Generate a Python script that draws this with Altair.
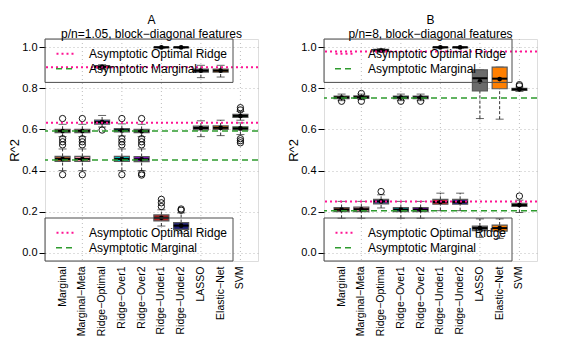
import altair as alt
import pandas as pd

categories = ["Marginal", "Marginal\u2212Meta", "Ridge\u2212Optimal", "Ridge\u2212Over1", "Ridge\u2212Over2",
              "Ridge\u2212Under1", "Ridge\u2212Under2", "LASSO", "Elastic\u2212Net", "SVM"]
box_colors = ["#A0522D", "#E8879B", "#2F4F9F", "#00B5B5", "#8B00D6",
              "#B22222", "#1E1E78", "#6B6B6B", "#FF7F00", "#2E9B2E"]
grid_cats = ["Marginal\u2212Meta", "Ridge\u2212Over1", "Ridge\u2212Under1", "LASSO", "SVM"]
y_ticks = [0.0, 0.2, 0.4, 0.6, 0.8, 1.0]

# ---------------- Panel A : p/n = 1.05 ----------------
A_hi_lw = [0.565, 0.565, 0.892, 0.568, 0.565, 0.995, 0.995, 0.852, 0.855, 0.645]
A_hi_q1 = [0.585, 0.585, 0.899, 0.588, 0.585, 0.997, 0.997, 0.879, 0.879, 0.659]
A_hi_med = [0.593, 0.593, 0.905, 0.596, 0.592, 1.000, 1.000, 0.886, 0.886, 0.666]
A_hi_q3 = [0.601, 0.601, 0.910, 0.604, 0.600, 1.000, 1.000, 0.893, 0.893, 0.673]
A_hi_uw = [0.625, 0.625, 0.915, 0.627, 0.625, 1.000, 1.000, 0.912, 0.912, 0.688]
A_hi_mean = [0.592, 0.592, 0.904, 0.595, 0.591, 0.999, 0.999, 0.886, 0.886, 0.665]
A_hi_out = [[0.653, 0.555, 0.540, 0.525], [0.653, 0.555, 0.540, 0.525], [],
            [0.653, 0.555, 0.540, 0.525], [0.653, 0.555, 0.540, 0.525], [], [], [], [],
            [0.706, 0.695]]

A_lo_lw = [0.400, 0.400, 0.612, 0.400, 0.400, 0.130, 0.095, 0.565, 0.570, 0.575]
A_lo_q1 = [0.444, 0.444, 0.626, 0.444, 0.443, 0.155, 0.114, 0.598, 0.600, 0.598]
A_lo_med = [0.456, 0.456, 0.636, 0.456, 0.455, 0.170, 0.132, 0.607, 0.608, 0.605]
A_lo_q3 = [0.469, 0.469, 0.646, 0.469, 0.468, 0.184, 0.147, 0.616, 0.617, 0.613]
A_lo_uw = [0.505, 0.505, 0.668, 0.505, 0.505, 0.209, 0.194, 0.642, 0.645, 0.632]
A_lo_mean = [0.456, 0.456, 0.636, 0.456, 0.455, 0.170, 0.132, 0.607, 0.608, 0.605]
A_lo_out = [[0.380], [0.380], [0.597], [0.380], [0.385, 0.378], [0.225, 0.243, 0.260],
            [0.207, 0.213], [], [], [0.555, 0.545, 0.535]]

A_pink = [0.903, 0.633]
A_green = [0.592, 0.451]

# ---------------- Panel B : p/n = 8 ----------------
B_hi_lw = [0.740, 0.745, 0.975, 0.740, 0.740, 0.995, 0.995, 0.653, 0.650, 0.785]
B_hi_q1 = [0.750, 0.751, 0.980, 0.750, 0.750, 0.997, 0.997, 0.787, 0.798, 0.790]
B_hi_med = [0.756, 0.757, 0.985, 0.756, 0.756, 1.000, 1.000, 0.849, 0.847, 0.795]
B_hi_q3 = [0.762, 0.763, 0.990, 0.762, 0.762, 1.000, 1.000, 0.890, 0.903, 0.800]
B_hi_uw = [0.772, 0.772, 0.993, 0.772, 0.772, 1.000, 1.000, 0.890, 0.903, 0.806]
B_hi_mean = [0.755, 0.756, 0.984, 0.755, 0.755, 0.999, 0.999, 0.834, 0.845, 0.795]
B_hi_out = [[0.737], [0.737, 0.775], [], [0.737], [0.737], [], [], [], [], [0.812, 0.818]]

B_lo_lw = [0.168, 0.168, 0.218, 0.168, 0.168, 0.205, 0.205, 0.075, 0.070, 0.196]
B_lo_q1 = [0.200, 0.200, 0.238, 0.200, 0.200, 0.236, 0.236, 0.108, 0.105, 0.226]
B_lo_med = [0.210, 0.212, 0.250, 0.210, 0.210, 0.247, 0.247, 0.120, 0.120, 0.232]
B_lo_q3 = [0.220, 0.222, 0.260, 0.220, 0.220, 0.260, 0.260, 0.130, 0.135, 0.240]
B_lo_uw = [0.250, 0.250, 0.282, 0.250, 0.250, 0.290, 0.290, 0.165, 0.165, 0.256]
B_lo_mean = [0.210, 0.211, 0.250, 0.210, 0.210, 0.247, 0.247, 0.120, 0.120, 0.232]
B_lo_out = [[], [], [0.298], [], [], [], [], [], [], [0.276]]

B_pink = [0.979, 0.250]
B_green = [0.753, 0.205]

PINK = "#FF1493"
GREEN = "#2E9B2E"
FONT = "Liberation Sans"
W, H = 213, 222


def box_frame(lw, q1, med, q3, uw, mean):
    return pd.DataFrame({"cat": categories, "lw": lw, "q1": q1, "med": med,
                         "q3": q3, "uw": uw, "mean": mean})


def out_frame(outs):
    rows = [(c, v) for c, vals in zip(categories, outs) for v in vals]
    return pd.DataFrame(rows, columns=["cat", "v"])


def panel(letter, subtitle, boxes, outs, pink, green):
    xenc = alt.X("cat:N", sort=categories,
                 scale=alt.Scale(domain=categories, paddingInner=0, paddingOuter=0.39),
                 axis=alt.Axis(title=None, labelAngle=-90, ticks=False, domain=False,
                               labelFontSize=10.5, labelPadding=5, labelColor="black",
                               grid=False))
    yscale = alt.Scale(domain=[-0.04, 1.04], nice=False, zero=False)
    yaxis = alt.Axis(values=y_ticks, format=".1f", title="R^2", grid=True,
                     gridDash=[1, 3], gridColor="#BDBDBD", domain=False,
                     tickColor="black", tickSize=6, labelFontSize=11, labelPadding=2,
                     labelColor="black", titleFontSize=13, titleFontWeight="normal",
                     titleColor="black", titlePadding=0)
    bx = pd.concat(boxes, ignore_index=True)
    od = pd.concat(outs, ignore_index=True)
    base = alt.Chart(bx)

    vgrid = alt.Chart(pd.DataFrame({"cat": grid_cats})).mark_rule(
        color="#BDBDBD", strokeDash=[1, 3], strokeWidth=1).encode(x=xenc)
    whisk_lo = base.mark_rule(color="#333333", strokeDash=[3, 2], strokeWidth=1).encode(
        x=xenc, y=alt.Y("lw:Q", scale=yscale, axis=yaxis), y2="q1:Q")
    whisk_hi = base.mark_rule(color="#333333", strokeDash=[3, 2], strokeWidth=1).encode(
        x=xenc, y=alt.Y("q3:Q", scale=yscale), y2="uw:Q")
    cap_lo = base.mark_tick(color="#222222", size=8, thickness=1).encode(
        x=xenc, y=alt.Y("lw:Q", scale=yscale))
    cap_hi = base.mark_tick(color="#222222", size=8, thickness=1).encode(
        x=xenc, y=alt.Y("uw:Q", scale=yscale))
    box = base.mark_bar(size=15, stroke="#5A5A5A", strokeWidth=1.2, opacity=1).encode(
        x=xenc, y=alt.Y("q1:Q", scale=yscale), y2="q3:Q",
        color=alt.Color("cat:N", scale=alt.Scale(domain=categories, range=box_colors),
                        legend=None))
    med = base.mark_tick(color="black", size=15, thickness=2, opacity=1).encode(
        x=xenc, y=alt.Y("med:Q", scale=yscale))
    mean = base.mark_circle(color="black", size=22, opacity=1).encode(
        x=xenc, y=alt.Y("mean:Q", scale=yscale))
    outl = alt.Chart(od).mark_point(shape="circle", filled=False, size=40, color="black",
                                    strokeWidth=0.9, opacity=1).encode(
        x=xenc, y=alt.Y("v:Q", scale=yscale))

    pink_l = alt.Chart(pd.DataFrame({"v": pink})).mark_rule(
        color=PINK, strokeDash=[2, 3], strokeWidth=2).encode(y=alt.Y("v:Q", scale=yscale))
    green_l = alt.Chart(pd.DataFrame({"v": green})).mark_rule(
        color=GREEN, strokeDash=[6, 4], strokeWidth=1.5).encode(y=alt.Y("v:Q", scale=yscale))

    one = pd.DataFrame({"k": [0]})
    leg_layers = []
    for top, bottom in [(0, 43.4), (179, H)]:
        leg_layers.append(alt.Chart(one).mark_rect(fill=None, stroke="#4D4D4D",
                                                   strokeWidth=1).encode(
            x=alt.value(0), x2=alt.value(188), y=alt.value(top), y2=alt.value(bottom)))
        y1 = top + 14.7
        y2 = top + 29.7
        leg_layers.append(alt.Chart(one).mark_rule(color=PINK, strokeDash=[2, 3],
                                                   strokeWidth=2).encode(
            x=alt.value(11.5), x2=alt.value(30), y=alt.value(y1)))
        leg_layers.append(alt.Chart(one).mark_rule(color=GREEN, strokeDash=[6, 4],
                                                   strokeWidth=1.5).encode(
            x=alt.value(11), x2=alt.value(29), y=alt.value(y2)))
        leg_layers.append(alt.Chart(one).mark_text(align="left", baseline="middle",
                                                   fontSize=12, font=FONT,
                                                   color="black").encode(
            x=alt.value(44), y=alt.value(y1), text=alt.value("Asymptotic Optimal Ridge")))
        leg_layers.append(alt.Chart(one).mark_text(align="left", baseline="middle",
                                                   fontSize=12, font=FONT,
                                                   color="black").encode(
            x=alt.value(44), y=alt.value(y2), text=alt.value("Asymptotic Marginal")))

    return alt.layer(vgrid, whisk_lo, whisk_hi, cap_lo, cap_hi, box, med, mean, outl,
                     pink_l, green_l, *leg_layers).properties(
        width=W, height=H,
        title=alt.TitleParams(letter, subtitle=subtitle, fontSize=12, subtitleFontSize=12,
                              font=FONT, subtitleFont=FONT, fontWeight="normal",
                              color="black", subtitleColor="black", anchor="middle",
                              offset=-2, subtitlePadding=2))


panel_a = panel("A", "p/n=1.05, block\u2212diagonal features",
                [box_frame(A_hi_lw, A_hi_q1, A_hi_med, A_hi_q3, A_hi_uw, A_hi_mean),
                 box_frame(A_lo_lw, A_lo_q1, A_lo_med, A_lo_q3, A_lo_uw, A_lo_mean)],
                [out_frame(A_hi_out), out_frame(A_lo_out)], A_pink, A_green)
panel_b = panel("B", "p/n=8, block\u2212diagonal features",
                [box_frame(B_hi_lw, B_hi_q1, B_hi_med, B_hi_q3, B_hi_uw, B_hi_mean),
                 box_frame(B_lo_lw, B_lo_q1, B_lo_med, B_lo_q3, B_lo_uw, B_lo_mean)],
                [out_frame(B_hi_out), out_frame(B_lo_out)], B_pink, B_green)

chart = alt.hconcat(panel_a, panel_b, spacing=27).properties(
    padding={"left": 0, "top": 5, "right": 5, "bottom": 5}
).configure_view(stroke="black", strokeWidth=1.2).configure_axis(
    labelFont=FONT, titleFont=FONT
).configure(background="white")

chart.save("out.html", embed_options={"renderer": "svg", "actions": False})
